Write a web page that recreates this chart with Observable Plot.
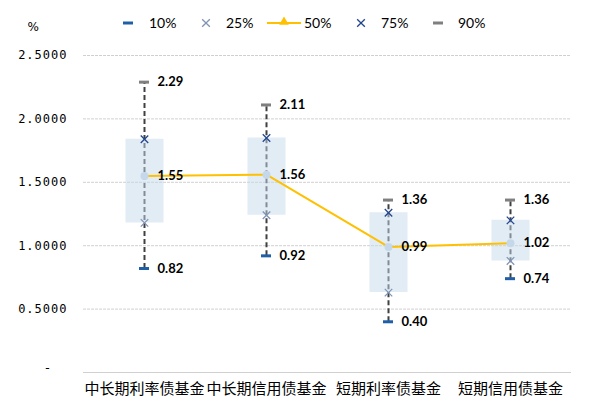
<!DOCTYPE html>
<html>
<head>
<meta charset="utf-8">
<script src="https://cdn.jsdelivr.net/npm/d3@7"></script>
<script src="https://cdn.jsdelivr.net/npm/@observablehq/plot@0.6"></script>
<style>
  body { margin: 0; background: #fff; }
  #chart { position: relative; width: 589px; height: 413px; font-family: Lato, "Noto Sans", sans-serif; }
  #chart > svg { position: absolute; left: 0; top: 0; }
  #chart g[aria-label="y-axis tick label"] text { letter-spacing: 1px; }
</style>
</head>
<body>
<div id="chart"></div>
<script>
// Fund categories and the percentile values of each one (%)
const categories = ["中长期利率债基金", "中长期信用债基金", "短期利率债基金", "短期信用债基金"];
const p10 = [0.82, 0.92, 0.40, 0.74];
const p25 = [1.18, 1.24, 0.63, 0.88];
const p50 = [1.55, 1.56, 0.99, 1.02];
const p75 = [1.84, 1.85, 1.26, 1.20];
const p90 = [2.29, 2.11, 1.36, 1.36];
const yTicks = [0, 0.5, 1, 1.5, 2, 2.5];
const legendLabels = ["10%", "25%", "50%", "75%", "90%"];

const colors = {
  p10: "#1f5fa8",
  p25: "#8094b4",
  p50: "#FFC000",
  p75: "#24468f",
  p90: "#7f7f7f",
  whisker: "#404040",
  box: "#c5d8ea",
  grid: "#d0d0d0"
};

const rows = categories.map((cat, i) => ({
  cat, p10: p10[i], p25: p25[i], p50: p50[i], p75: p75[i], p90: p90[i]
}));

const labelStyle = { fontSize: 13, fontWeight: "bold", fill: "#000", textAnchor: "start", dx: 13, fontFamily: "Lato, sans-serif" };

const plot = Plot.plot({
  width: 589,
  height: 413,
  marginTop: 55,
  marginBottom: 41,
  marginLeft: 83,
  marginRight: 18,
  x: { type: "band", domain: categories, padding: 0, label: null },
  y: { domain: [0, 2.5], label: null },
  marks: [
    Plot.ruleY(yTicks.filter(d => d > 0), { stroke: colors.grid, strokeDasharray: "3,1" }),
    Plot.ruleY([0], { stroke: colors.grid }),
    // 10%–90% whisker
    Plot.ruleX(rows, { x: "cat", y1: "p10", y2: "p90", stroke: colors.whisker, strokeWidth: 2, strokeDasharray: "5,3" }),
    // 25%–75% box, a wide stroke filled with a fine checker
    Plot.ruleX(rows, { x: "cat", y1: "p25", y2: "p75", stroke: "url(#checker)", strokeWidth: 38 }),
    // median line
    Plot.line(rows, { x: "cat", y: "p50", stroke: colors.p50, strokeWidth: 2 }),
    Plot.dot(rows, { x: "cat", y: "p50", r: 4, fill: colors.box }),
    // caps
    Plot.tickY(rows, { x: "cat", y: "p90", stroke: colors.p90, strokeWidth: 3, inset: 56 }),
    Plot.tickY(rows, { x: "cat", y: "p10", stroke: colors.p10, strokeWidth: 3, inset: 56 }),
    // quartile markers
    Plot.dot(rows, { x: "cat", y: "p25", symbol: "times", r: 3.5, stroke: colors.p25, strokeWidth: 1.3 }),
    Plot.dot(rows, { x: "cat", y: "p75", symbol: "times", r: 3.5, stroke: colors.p75, strokeWidth: 1.3 }),
    // value labels
    Plot.text(rows, { x: "cat", y: "p90", text: d => d.p90.toFixed(2), ...labelStyle }),
    Plot.text(rows, { x: "cat", y: "p50", text: d => d.p50.toFixed(2), ...labelStyle }),
    Plot.text(rows, { x: "cat", y: "p10", text: d => d.p10.toFixed(2), ...labelStyle }),
    // axes
    Plot.axisY({
      ticks: yTicks, tickSize: 0, tickPadding: 16,
      tickFormat: d => d === 0 ? "" : d.toFixed(4),
      fontSize: 12, fontFamily: "DejaVu Sans Mono, monospace"
    }),
    Plot.text(["-"], { frameAnchor: "bottom-left", dx: -40, dy: -1, fontSize: 13, fontFamily: "DejaVu Sans Mono, monospace" }),
    Plot.text(["%"], { frameAnchor: "top-left", dx: -56, dy: -33, fontSize: 12, fontFamily: "DejaVu Sans, sans-serif" }),
    Plot.axisX({ tickSize: 0, tickPadding: 11, fontSize: 15, fontFamily: "Noto Sans CJK SC, sans-serif" })
  ]
});
plot.style.background = "#fff";

// checker paint for the boxes
const ns = "http://www.w3.org/2000/svg";
const defs = document.createElementNS(ns, "defs");
defs.innerHTML = `<pattern id="checker" width="2" height="2" patternUnits="userSpaceOnUse">
  <rect width="1" height="1" fill="${colors.box}"/><rect x="1" y="1" width="1" height="1" fill="${colors.box}"/>
</pattern>`;
plot.insertBefore(defs, plot.firstChild);
document.getElementById("chart").appendChild(plot);

// Legend across the top
const legend = d3.select("#chart").append("svg")
  .attr("width", 589).attr("height", 40)
  .style("font-family", "Lato, sans-serif").style("font-size", "14px");
const ly = 23;
const items = [
  { key: "p10", iconX: 128, textX: 149 },
  { key: "p25", iconX: 206, textX: 226 },
  { key: "p50", iconX: 284, textX: 304 },
  { key: "p75", iconX: 361, textX: 381 },
  { key: "p90", iconX: 438, textX: 458 }
];
items.forEach((it, i) => {
  const g = legend.append("g");
  if (it.key === "p10" || it.key === "p90") {
    g.append("line").attr("x1", it.iconX - 5).attr("x2", it.iconX + 5)
      .attr("y1", ly).attr("y2", ly).attr("stroke", colors[it.key]).attr("stroke-width", 3);
  } else if (it.key === "p50") {
    g.append("line").attr("x1", it.iconX - 17).attr("x2", it.iconX + 17)
      .attr("y1", ly).attr("y2", ly).attr("stroke", colors.p50).attr("stroke-width", 2);
    g.append("path").attr("d", d3.symbol(d3.symbolTriangle, 40)())
      .attr("transform", `translate(${it.iconX},${ly - 1})`).attr("fill", colors.p50);
  } else {
    g.append("path").attr("d", d3.symbol(d3.symbolTimes, 40)())
      .attr("transform", `translate(${it.iconX},${ly})`)
      .attr("fill", "none").attr("stroke", colors[it.key]).attr("stroke-width", 1.3);
  }
  g.append("text").attr("x", it.textX).attr("y", ly).attr("dy", "0.35em")
    .attr("fill", "#000").text(legendLabels[i]);
});
</script>
</body>
</html>
